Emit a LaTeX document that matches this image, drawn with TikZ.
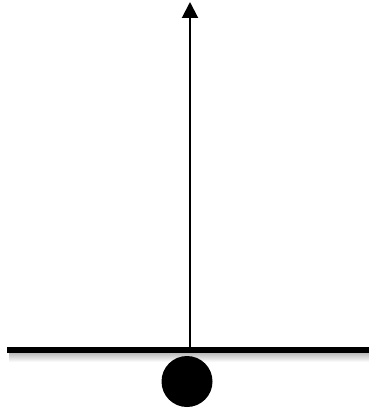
\documentclass[tikz,border=0pt]{standalone}
\usetikzlibrary{arrows.meta}
\begin{document}
\begin{tikzpicture}[x=1pt,y=-1pt,
  bar/.style={fill=black,draw=none},
  barshadow/.style={draw=none,top color=black!28,bottom color=white},
  ball/.style={circle,fill=black,draw=none,minimum size=51pt,inner sep=0pt},
  vec/.style={line width=2pt,-{Triangle[length=16pt,width=16pt]}}]
\useasboundingbox (0,0) rectangle (368,412);
\fill[white] (0,0) rectangle (368,412);
\shade[barshadow] (9,352.5) rectangle (370,362);
\path[bar] (7,347) rectangle (370,352.5);
\node[ball] (ball) at (187,381.5) {};
\coordinate (base) at (190,347);
\coordinate (tip) at (190,2);
\draw[vec] (base) -- (tip);
\end{tikzpicture}
\end{document}
